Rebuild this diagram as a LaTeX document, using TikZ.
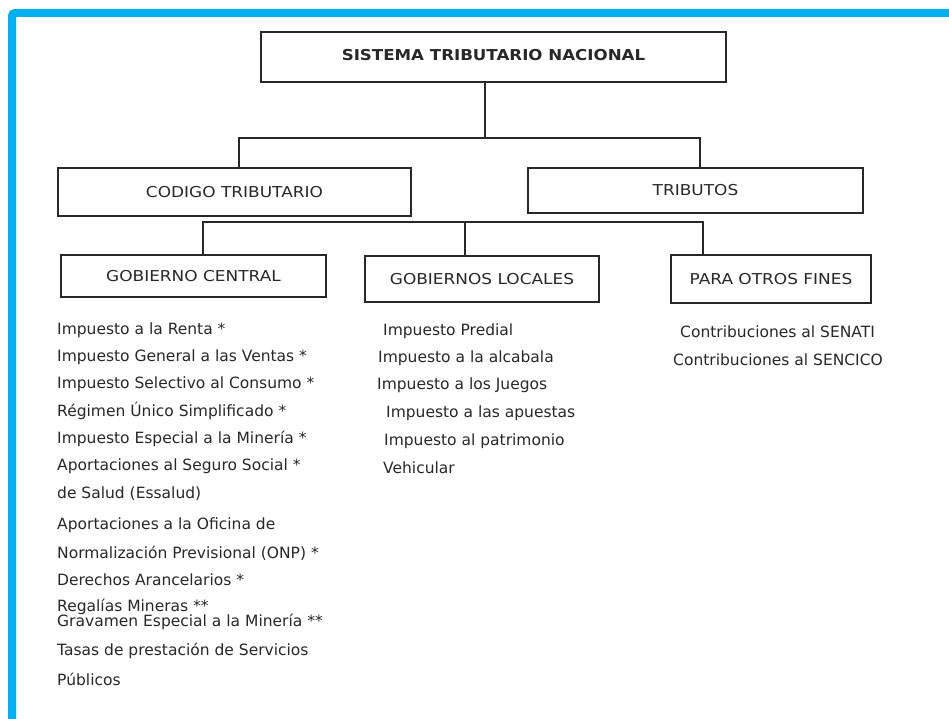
\documentclass[tikz,border=0pt]{standalone}
\usepackage{fontspec}
\setmainfont{DejaVu Sans}
\definecolor{frameblue}{RGB}{0,176,240}
\definecolor{ink}{RGB}{40,40,40}
\newcommand{\wideTxt}[1]{\scalebox{1.13}[1]{#1}}
\begin{document}
\begin{tikzpicture}[x=1pt,y=-1pt,
  box/.style={draw=ink,line width=1.3pt,rectangle,inner sep=0pt,text=ink,font=\fontsize{15}{17}\selectfont},
  item/.style={anchor=west,inner sep=0pt,text=ink,font=\fontsize{15.5}{17}\selectfont},
  conn/.style={draw=ink,line width=1.3pt}]
\useasboundingbox (0,0) rectangle (949,719);
\fill[white] (0,0) rectangle (949,719);
\draw[frameblue,line width=8pt,rounded corners=3pt] (12,730) -- (12,13) -- (960,13);
% boxes
\node[box,line width=2.6pt,minimum width=465pt,minimum height=50pt,font=\bfseries\fontsize{15}{17}\selectfont] (top) at (493.5,57) {\raisebox{4pt}{\scalebox{1.11}[1]{SISTEMA TRIBUTARIO NACIONAL}}};
\node[box,minimum width=353pt,minimum height=48pt] (ct) at (234.5,192) {\wideTxt{CODIGO TRIBUTARIO}};
\node[box,minimum width=335pt,minimum height=45pt] (tr) at (695.5,190.5) {\wideTxt{TRIBUTOS}};
\node[box,minimum width=265pt,minimum height=42pt] (gc) at (193.5,276) {\wideTxt{GOBIERNO CENTRAL}};
\node[box,minimum width=234pt,minimum height=46pt] (gl) at (482,279) {\wideTxt{GOBIERNOS LOCALES}};
\node[box,minimum width=200pt,minimum height=48pt] (po) at (771,279) {\wideTxt{PARA OTROS FINES}};
% connectors
\coordinate (t1) at (485,138);
\coordinate (b1) at (239,138);
\coordinate (b2) at (700,138);
\draw[conn] (top.south -| t1) -- (t1);
\draw[conn] (ct.north -| b1) |- (b2) -- (tr.north -| b2);
\coordinate (c1) at (203,222);
\coordinate (c2) at (465,222);
\coordinate (c3) at (703,222);
\draw[conn] (gc.north -| c1) |- (c3) -- (po.north -| c3);
\draw[conn] (c2) -- (gl.north -| c2);
% left column
\node[item] (l1) at (57,330) {Impuesto a la Renta *};
\node[item] (l2) at (57,357) {Impuesto General a las Ventas *};
\node[item] (l3) at (57,384) {Impuesto Selectivo al Consumo *};
\node[item] (l4) at (57,411) {Régimen Único Simplificado *};
\node[item] (l5) at (57,439) {Impuesto Especial a la Minería *};
\node[item] (l6) at (57,466) {Aportaciones al Seguro Social *};
\node[item] (l7) at (57,494) {de Salud (Essalud)};
\node[item] (l8) at (57,525) {Aportaciones a la Oficina de};
\node[item] (l9) at (57,553) {Normalización Previsional (ONP) *};
\node[item] (l10) at (57,580) {Derechos Arancelarios *};
\node[item] (l11) at (57,607) {Regalías Mineras **};
\node[item] (l12) at (57,622) {Gravamen Especial a la Minería **};
\node[item] (l13) at (57,651) {Tasas de prestación de Servicios};
\node[item] (l14) at (57,679) {Públicos};
% middle column
\node[item] (m1) at (383,331) {Impuesto Predial};
\node[item] (m2) at (378,358) {Impuesto a la alcabala};
\node[item] (m3) at (377,385) {Impuesto a los Juegos};
\node[item] (m4) at (386,413) {Impuesto a las apuestas};
\node[item] (m5) at (384,441) {Impuesto al patrimonio};
\node[item] (m6) at (383,468) {Vehicular};
% right column
\node[item] (r1) at (680,332) {Contribuciones al SENATI};
\node[item] (r2) at (673,360) {Contribuciones al SENCICO};
\end{tikzpicture}
\end{document}
